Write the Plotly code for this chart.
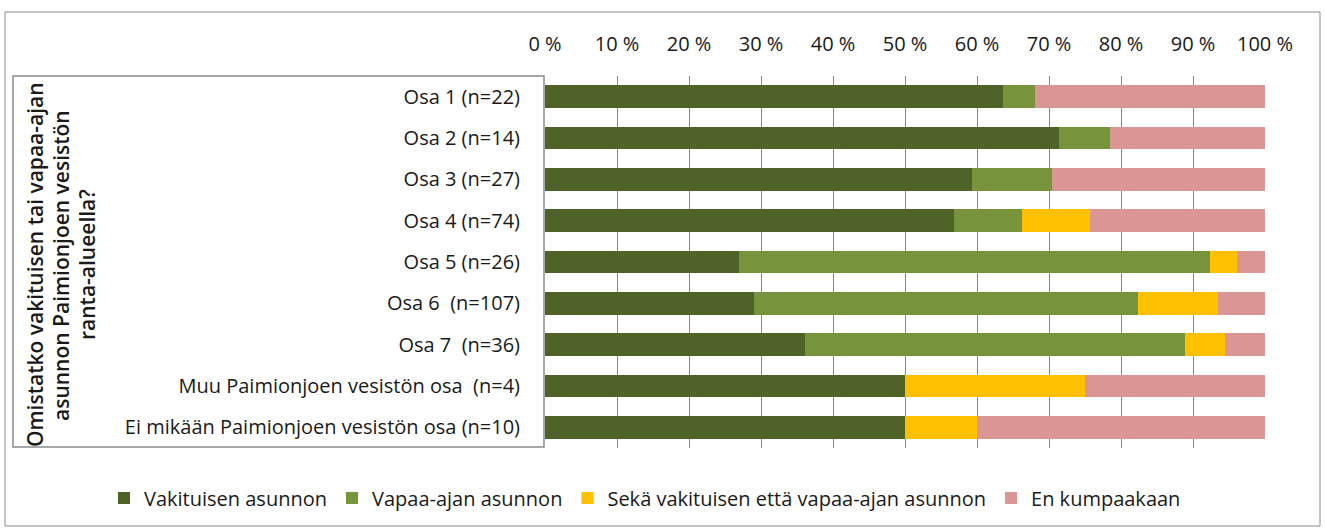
import plotly.graph_objects as go

categories = [
    "Osa 1 (n=22)", "Osa 2 (n=14)", "Osa 3 (n=27)", "Osa 4 (n=74)",
    "Osa 5 (n=26)", "Osa 6  (n=107)", "Osa 7  (n=36)",
    "Muu Paimionjoen vesistön osa  (n=4)",
    "Ei mikään Paimionjoen vesistön osa (n=10)",
]
vakituisen = [63.6, 71.4, 59.3, 56.8, 26.9, 29.0, 36.1, 50.0, 50.0]
vapaa_ajan = [4.5, 7.1, 11.1, 9.5, 65.4, 53.3, 52.8, 0.0, 0.0]
molemmat = [0.0, 0.0, 0.0, 9.4, 3.8, 11.2, 5.5, 25.0, 10.0]
ei_kumpaakaan = [31.9, 21.5, 29.6, 24.3, 3.9, 6.5, 5.6, 25.0, 40.0]

series_names = ["Vakituisen asunnon", "Vapaa-ajan asunnon",
                "Sekä vakituisen että vapaa-ajan asunnon", "En kumpaakaan"]
series_values = [vakituisen, vapaa_ajan, molemmat, ei_kumpaakaan]
series_colors = ["#4f6228", "#77933c", "#ffc000", "#d99694"]

tick_vals = [0, 10, 20, 30, 40, 50, 60, 70, 80, 90, 100]
tick_text = [f"{v} %" for v in tick_vals]

y_title_lines = ["Omistatko vakituisen tai vapaa-ajan",
                 "asunnon Paimionjoen vesistön",
                 "ranta-alueella?"]

FONT = "Open Sans, Lato, sans-serif"

fig = go.Figure()
for name, vals, col in zip(series_names, series_values, series_colors):
    fig.add_trace(go.Bar(
        y=categories, x=vals, name=name, orientation="h",
        marker=dict(color=col, line=dict(width=0)),
        hoverinfo="x+y+name",
    ))

W, H = 1326, 532
L, R, T, B = 545, 61, 76, 84
pw, ph = W - L - R, H - T - B

def px(x):
    return (x - L) / pw

def py(y):
    return (H - B - y) / ph

fig.update_layout(
    width=W, height=H,
    barmode="stack", bargap=0.45,
    plot_bgcolor="white", paper_bgcolor="white",
    margin=dict(l=L, r=R, t=T, b=B),
    font=dict(family=FONT, size=17, color="#1a1a1a"),
    xaxis=dict(
        side="top", range=[0, 100], tickvals=tick_vals, ticktext=tick_text,
        showgrid=True, gridcolor="#8a8a8a", gridwidth=1, zeroline=False,
        showline=False, ticks="", ticklabelstandoff=20,
        tickfont=dict(size=20, family=FONT),
    ),
    yaxis=dict(
        categoryorder="array", categoryarray=categories, autorange="reversed",
        showgrid=False, zeroline=False, showline=False, ticks="",
        ticklabelstandoff=24, tickfont=dict(size=20, family=FONT),
    ),
    legend=dict(
        orientation="h", xref="paper", yref="paper",
        x=px(104), xanchor="left", y=py(498), yanchor="middle",
        font=dict(size=20, family=FONT), traceorder="normal",
    ),
    showlegend=True,
)

# outer chart border
fig.add_shape(type="rect", xref="paper", yref="paper",
              x0=px(5), x1=px(1320), y0=py(526), y1=py(12),
              line=dict(color="#8c8c8c", width=1), layer="below")
# box around category labels
fig.add_shape(type="rect", xref="paper", yref="paper",
              x0=px(13), x1=px(544), y0=py(447), y1=py(76),
              line=dict(color="#8c8c8c", width=1.5), layer="below")

for line, xc in zip(y_title_lines, [35, 61, 87]):
    fig.add_annotation(
        text=line, textangle=-90, xref="paper", yref="paper",
        x=px(xc), y=py(265), xanchor="center", yanchor="middle",
        showarrow=False,
        font=dict(size=21, family=FONT, color="#1a1a1a", weight=600),
    )

fig.write_html("out.html", config={"displayModeBar": False},
               post_script="document.body.style.margin='0';")
